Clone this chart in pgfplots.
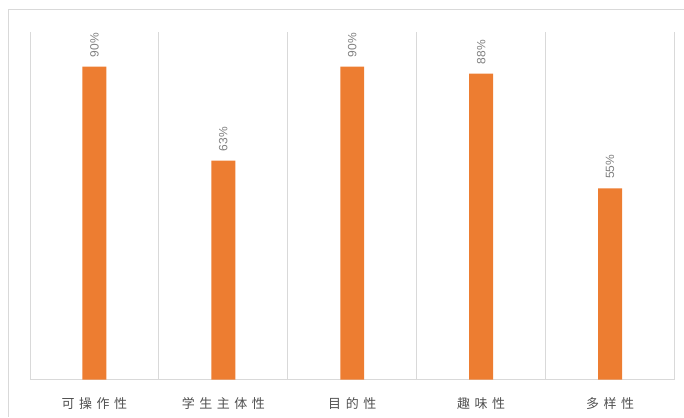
\documentclass[border=0pt]{standalone}
\usepackage{pgfplots}
\pgfplotsset{compat=1.18}
\usepackage{fontspec}
\setmainfont{Liberation Sans}
\newfontfamily\cjk[LetterSpace=35]{Noto Sans CJK SC}
\definecolor{barorange}{HTML}{ED7D31}
\definecolor{gridgray}{HTML}{D9D9D9}
\definecolor{txtgray}{HTML}{505050}
\begin{document}
\begin{tikzpicture}
  \path (0pt,0pt) rectangle (684pt,417pt);
  % outer chart frame
  \draw[gridgray,line width=1pt] (9pt,0pt) -- (9pt,407pt) -- (684pt,407pt);
  \begin{axis}[
    at={(30pt,37pt)}, anchor=south west,
    scale only axis, width=645pt, height=348pt,
    xmin=-0.5, xmax=4.5, ymin=0, ymax=100,
    xtick={0,1,2,3,4},
    xticklabels={可操作性,学生主体性,目的性,趣味性,多样性},
    minor xtick={-0.5,0.5,1.5,2.5,3.5,4.5},
    minor x grid style={gridgray,line width=0.8pt},
    xminorgrids=true,
    major tick length=0pt, minor tick length=0pt,
    ytick=\empty,
    axis y line=none,
    axis x line*=bottom,
    x axis line style={gridgray,line width=0.8pt,-},
    xticklabel style={font=\cjk\fontsize{13}{13}\selectfont, text=txtgray, yshift=-14pt},
    ybar, bar width=24pt,
    /pgf/number format/assume math mode=true,
    nodes near coords={\pgfmathprintnumber{\pgfplotspointmeta}\%},
    nodes near coords style={rotate=90, anchor=west, font=\fontsize{12}{12}\selectfont, text=gray, xshift=6pt},
    clip=false,
  ]
    \addplot[fill=barorange, draw=none] coordinates {(0,90) (1,63) (2,90) (3,88) (4,55)};
  \end{axis}
\end{tikzpicture}
\end{document}
